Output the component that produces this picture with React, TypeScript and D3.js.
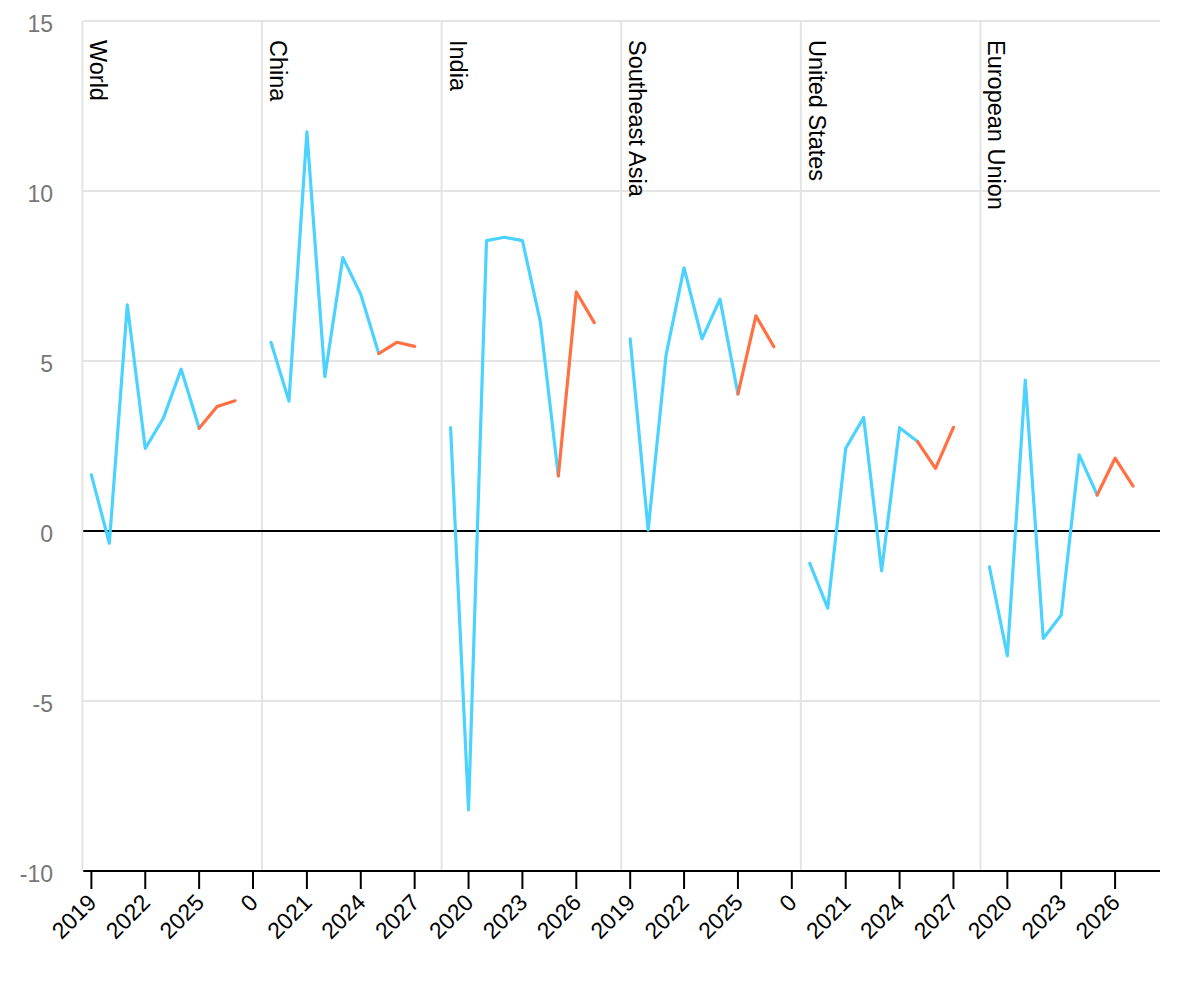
import React from "react";
import * as d3 from "d3";

// GDP growth (%) by region, 2019–2027; values from 2025 on are forecasts
const regions = ["World", "China", "India", "Southeast Asia", "United States", "European Union"];
const years = [2019, 2020, 2021, 2022, 2023, 2024, 2025, 2026, 2027];
const forecastFrom = 2025;

const world = [1.65, -0.36, 6.65, 2.43, 3.31, 4.76, 3.02, 3.66, 3.83];
const china = [5.55, 3.82, 11.74, 4.54, 8.04, 6.96, 5.22, 5.55, 5.43];
const india = [3.04, -8.2, 8.54, 8.64, 8.54, 6.15, 1.62, 7.03, 6.13];
const seAsia = [5.65, 0.03, 5.18, 7.74, 5.65, 6.82, 4.03, 6.33, 5.42];
const us = [-0.95, -2.27, 2.43, 3.34, -1.17, 3.04, 2.63, 1.84, 3.05];
const eu = [-1.05, -3.67, 4.44, -3.16, -2.47, 2.24, 1.06, 2.14, 1.32];
const seriesByRegion = [world, china, india, seAsia, us, eu];

const yTicks = [-10, -5, 0, 5, 10, 15];
const xTickLabels = [
  "2019", "2022", "2025", "0", "2021", "2024", "2027", "2020", "2023", "2026",
  "2019", "2022", "2025", "0", "2021", "2024", "2027", "2020", "2023", "2026",
];

const SLOTS = 10; // 9 years + 1 empty slot per panel
const BLUE = "#4cd2ff";
const ORANGE = "#ff7043";
const GRID = "#e4e4e4";
const FONT = "'Liberation Sans', Arial, Helvetica, sans-serif";

export default function App() {
  const width = 1200;
  const height = 1000;

  const x = d3.scaleLinear().domain([-0.45, 59.5]).range([83.3, 1160]);
  const y = d3.scaleLinear().domain([-10, 15]).range([871, 21]);

  const slot = (r: number, year: number) => r * SLOTS + (year - years[0]);
  const line = d3
    .line<{ s: number; v: number }>()
    .x((d) => x(d.s))
    .y((d) => y(d.v));

  const panels = regions.map((name, r) => {
    const pts = years.map((yr, k) => ({ s: slot(r, yr), v: seriesByRegion[r][k], yr }));
    return {
      name,
      left: x(r * SLOTS - 0.5),
      actual: pts.filter((p) => p.yr <= forecastFrom),
      forecast: pts.filter((p) => p.yr >= forecastFrom),
    };
  });

  const [x0, x1] = x.range();

  return (
    <svg
      width={width}
      height={height}
      style={{ position: "absolute", left: 0, top: 0, background: "#fff" }}
      fontFamily={FONT}
    >
      {/* horizontal grid */}
      {yTicks
        .filter((t) => t !== 0 && t !== -10)
        .map((t) => (
          <line key={"g" + t} x1={x0} x2={x1} y1={y(t)} y2={y(t)} stroke={GRID} strokeWidth={2} />
        ))}

      {/* panel separators */}
      {panels.map((p) => (
        <line key={"sep" + p.name} x1={p.left} x2={p.left} y1={y(15)} y2={y(-10)} stroke={GRID} strokeWidth={2} />
      ))}

      {/* y tick labels */}
      {yTicks.map((t) => (
        <text key={"yl" + t} x={53} y={y(t)} dy={11} textAnchor="end" fontSize={23} fill="#777">
          {t}
        </text>
      ))}

      {/* zero line */}
      <line x1={x0} x2={x1} y1={y(0)} y2={y(0)} stroke="#000" strokeWidth={2} />

      {/* x axis */}
      <line x1={x0} x2={x1} y1={y(-10)} y2={y(-10)} stroke="#000" strokeWidth={2} />
      {xTickLabels.map((lab, i) => {
        const tx = x(i * 3);
        return (
          <g key={"xt" + i}>
            <line x1={tx} x2={tx} y1={y(-10)} y2={y(-10) + 18} stroke="#000" strokeWidth={2} />
            <text
              transform={`translate(${tx + 6.3},${y(-10) + 33}) rotate(-45)`}
              textAnchor="end"
              fontSize={23}
              fill="#000"
            >
              {lab}
            </text>
          </g>
        );
      })}

      {/* panel labels */}
      {panels.map((p) => (
        <text
          key={"pl" + p.name}
          transform={`translate(${p.left + 8},40) rotate(90)`}
          fontSize={23.5}
          fill="#000"
        >
          {p.name}
        </text>
      ))}

      {/* series */}
      {panels.map((p) => (
        <g key={"s" + p.name} fill="none" strokeWidth={3.2} strokeLinejoin="round" strokeLinecap="round">
          <path d={line(p.actual) || ""} stroke={BLUE} />
          <path d={line(p.forecast) || ""} stroke={ORANGE} />
        </g>
      ))}
    </svg>
  );
}
